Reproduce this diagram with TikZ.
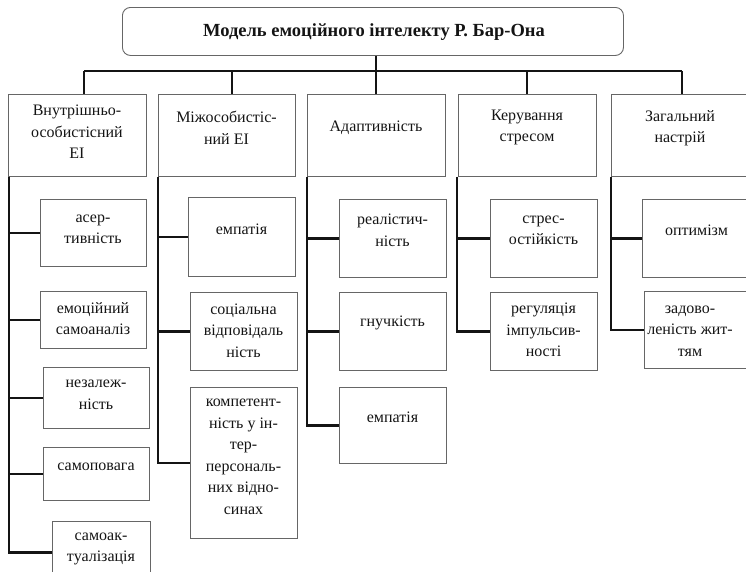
\documentclass[tikz,border=0pt]{standalone}
\usepackage{fontspec}
\setmainfont{Liberation Serif}
\definecolor{boxgray}{HTML}{666666}
\definecolor{ink}{HTML}{141414}
\begin{document}
\begin{tikzpicture}[x=1pt,y=-1pt,
  box/.style={draw=boxgray, line width=0.9pt, rectangle, inner sep=0pt, anchor=north west},
  conn/.style={line width=2.2pt, draw=ink},
  txt/.style={font=\fontsize{16}{21.5}\selectfont, align=center, text=ink, inner sep=0pt},
  ttl/.style={font=\fontsize{18.5}{22}\selectfont\bfseries, text=ink, inner sep=0pt}]
\useasboundingbox (0,0) rectangle (746,571);
\clip (0,0) rectangle (746,571);
% title
\node[box, rounded corners=8pt, minimum width=501pt, minimum height=48pt] (T) at (122,7) {};
\node[ttl] (Tt) at (374,32) {Модель емоційного інтелекту Р. Бар-Она};
% level 1
\node[box, minimum width=138pt, minimum height=82pt] (L1) at (8,94) {};
\node[box, minimum width=137pt, minimum height=82pt] (L2) at (158,94) {};
\node[box, minimum width=138pt, minimum height=82pt] (L3) at (307,94) {};
\node[box, minimum width=138pt, minimum height=82pt] (L4) at (458,94) {};
\node[box, minimum width=150pt, minimum height=82pt] (L5) at (611,94) {};
\node[txt] (L1t) at (77,132) {Внутрішньо-\\особистісний\\ЕІ};
\node[txt] (L2t) at (226.5,128) {Міжособистіс-\\ний ЕІ};
\node[txt] (L3t) at (376,128) {Адаптивність};
\node[txt] (L4t) at (527,127.5) {Керування\\стресом};
\node[txt] (L5t) at (680,128) {Загальний\\настрій};
% column 1
\node[box, minimum width=106pt, minimum height=67pt] (s11) at (40,199) {};
\node[box, minimum width=106pt, minimum height=57pt] (s12) at (40,291) {};
\node[box, minimum width=106pt, minimum height=61pt] (s13) at (43,367) {};
\node[box, minimum width=106pt, minimum height=53pt] (s14) at (43,447) {};
\node[box, minimum width=98pt, minimum height=62pt] (s15) at (52,521) {};
\node[txt] (s11t) at (93,229.5) {асер-\\тивність};
\node[txt] (s12t) at (93,318.5) {емоційний\\самоаналіз};
\node[txt] (s13t) at (96,395) {незалеж-\\ність};
\node[txt] (s14t) at (96,467) {самоповага};
\node[txt] (s15t) at (101,549) {самоак-\\туалізація};
% column 2
\node[box, minimum width=107pt, minimum height=79pt] (s21) at (188,197) {};
\node[box, minimum width=107pt, minimum height=78pt] (s22) at (190,292) {};
\node[box, minimum width=107pt, minimum height=151pt] (s23) at (190,387) {};
\node[txt] (s21t) at (241.5,229) {емпатія};
\node[txt] (s22t) at (243.5,330.5) {соціальна\\відповідаль\\ність};
\node[txt] (s23t) at (243.5,457) {компетент-\\ність у ін-\\тер-\\персональ-\\них відно-\\синах};
% column 3
\node[box, minimum width=107pt, minimum height=78pt] (s31) at (339,199) {};
\node[box, minimum width=107pt, minimum height=78pt] (s32) at (339,292) {};
\node[box, minimum width=107pt, minimum height=76pt] (s33) at (339,387) {};
\node[txt] (s31t) at (392.5,230.5) {реалістич-\\ність};
\node[txt] (s32t) at (392.5,323) {гнучкість};
\node[txt] (s33t) at (392.5,417) {емпатія};
% column 4
\node[box, minimum width=107pt, minimum height=78pt] (s41) at (490,199) {};
\node[box, minimum width=107pt, minimum height=78pt] (s42) at (490,292) {};
\node[txt] (s41t) at (543.5,230.5) {стрес-\\остійкість};
\node[txt] (s42t) at (543.5,330) {регуляція\\імпульсив-\\ності};
% column 5
\node[box, minimum width=130pt, minimum height=78pt] (s51) at (642,199) {};
\node[box, minimum width=130pt, minimum height=77pt] (s52) at (644,291) {};
\node[txt] (s51t) at (696.5,230) {оптимізм};
\node[txt] (s52t) at (690,331) {задово-\\леність жит-\\тям};
% bus
\coordinate (d1) at (84,71);
\coordinate (d2) at (232,71);
\coordinate (d3) at (376,71);
\coordinate (d4) at (527,71);
\coordinate (d5) at (682,71);
\draw[conn] (d1) -- (d5);
\draw[conn] (T.south -| d3) -- (d3);
\draw[conn] (d1) -- (d1 |- L1.north);
\draw[conn] (d2) -- (d2 |- L2.north);
\draw[conn] (d3) -- (d3 |- L3.north);
\draw[conn] (d4) -- (d4 |- L4.north);
\draw[conn] (d5) -- (d5 |- L5.north);
% trunks
\foreach \s in {s11,s12,s13,s14,s15} \draw[conn] ([xshift=1pt]L1.south west) |- (\s.west);
\foreach \s in {s21,s22,s23} \draw[conn] (L2.south west) |- (\s.west);
\foreach \s in {s31,s32,s33} \draw[conn] (L3.south west) |- (\s.west);
\foreach \s in {s41,s42} \draw[conn] ([xshift=-1pt]L4.south west) |- (\s.west);
\foreach \s in {s51,s52} \draw[conn] (L5.south west) |- (\s.west);
\end{tikzpicture}
\end{document}
